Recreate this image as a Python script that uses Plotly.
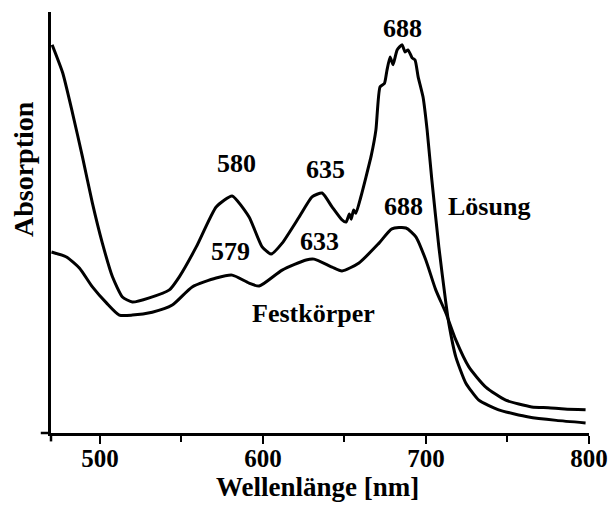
import plotly.graph_objects as go

# Lösung (solution) spectrum
loesung_nm = [470.7, 477.2, 483.2, 489.3, 495.4, 501.5, 507.7, 513.8, 519.9, 530.3,
              542.6, 548.7, 559.1, 571.3, 581.1, 591.5, 599.5, 605.0, 611.8, 622.2,
              630.1, 636.3, 642.4, 648.5, 651.0, 653.0, 654.2, 655.6, 657.0, 660.0,
              663.2, 666.5, 669.3, 671.8, 674.5, 676.0, 678.0, 679.8, 682.3, 685.3,
              687.2, 689.0, 691.5, 693.3, 695.2, 698.2, 700.7, 703.6, 707.9, 712.2,
              714.0, 718.3, 724.4, 732.4, 744.6, 763.0, 780.0, 797.9]
loesung_abs = [0.922, 0.855, 0.760, 0.656, 0.546, 0.451, 0.371, 0.323, 0.311, 0.321,
               0.340, 0.371, 0.442, 0.537, 0.563, 0.513, 0.442, 0.425, 0.451, 0.513,
               0.561, 0.570, 0.537, 0.506, 0.501, 0.520, 0.508, 0.530, 0.522, 0.560,
               0.608, 0.660, 0.720, 0.822, 0.830, 0.860, 0.893, 0.875, 0.910, 0.922,
               0.905, 0.910, 0.891, 0.886, 0.846, 0.798, 0.720, 0.601, 0.442, 0.309,
               0.261, 0.181, 0.119, 0.078, 0.055, 0.038, 0.030, 0.024]

# Festkörper (solid state) spectrum
fest_nm = [470.3, 479.5, 487.4, 495.4, 504.0, 511.9, 519.9, 532.1, 544.4, 556.6,
           571.3, 581.1, 591.5, 597.7, 611.8, 626.5, 631.4, 642.4, 648.5, 658.9,
           671.2, 679.1, 687.7, 693.8, 699.9, 706.0, 712.2, 718.3, 726.3, 736.7,
           748.9, 764.9, 775.0, 785.0, 797.9]
fest_abs = [0.430, 0.418, 0.392, 0.347, 0.309, 0.280, 0.280, 0.287, 0.304, 0.347,
            0.368, 0.375, 0.356, 0.349, 0.387, 0.411, 0.413, 0.394, 0.385, 0.404,
            0.451, 0.485, 0.487, 0.466, 0.411, 0.340, 0.285, 0.221, 0.157, 0.109,
            0.078, 0.062, 0.060, 0.057, 0.055]

x_ticks = [500, 600, 700, 800]
x_minor = [550, 650, 750]

# peak labels: text, wavelength, absorption
peak_text = ["688", "580", "635", "579", "633", "688"]
peak_nm = [685.3, 583.5, 638.1, 579.8, 634.4, 686.0]
peak_abs = [0.962, 0.641, 0.625, 0.430, 0.456, 0.539]

series_text = ["Lösung", "Festkörper"]
series_nm = [738.7, 631.3]
series_abs = [0.537, 0.285]

FONT = "Liberation Serif"

fig = go.Figure()
fig.add_trace(go.Scatter(x=loesung_nm, y=loesung_abs, mode="lines",
                         line=dict(color="black", width=3, shape="spline", smoothing=0.5),
                         name="Lösung", showlegend=False))
fig.add_trace(go.Scatter(x=fest_nm, y=fest_abs, mode="lines",
                         line=dict(color="black", width=3, shape="spline", smoothing=0.6),
                         name="Festkörper", showlegend=False))

for t, xv, yv in zip(peak_text + series_text, peak_nm + series_nm, peak_abs + series_abs):
    fig.add_annotation(x=xv, y=yv, xref="x", yref="y", text=t, showarrow=False,
                       font=dict(family=FONT, size=26, color="black", weight="bold"),
                       xanchor="center", yanchor="middle")

fig.add_annotation(x=-0.052, y=0.627, xref="paper", yref="paper", text="Absorption",
                   textangle=-90, showarrow=False,
                   font=dict(family=FONT, size=28, color="black", weight="bold"),
                   xanchor="center", yanchor="middle")
fig.add_annotation(x=0.496, y=-0.128, xref="paper", yref="paper", text="Wellenlänge [nm]",
                   showarrow=False,
                   font=dict(family=FONT, size=27, color="black", weight="bold"),
                   xanchor="center", yanchor="middle")

# axis extensions (x axis line continues left of y axis, y axis crosses below)
fig.add_shape(type="line", xref="paper", yref="paper", x0=-0.019, x1=0, y0=0, y1=0,
              line=dict(color="black", width=2.5))
fig.add_shape(type="line", xref="paper", yref="paper", x0=0, x1=0, y0=-0.02, y1=0,
              line=dict(color="black", width=2.5))

fig.update_layout(
    width=611, height=507,
    margin=dict(l=51, r=22, t=12, b=74, autoexpand=False),
    paper_bgcolor="white", plot_bgcolor="white",
    xaxis=dict(range=[470, 800], tickmode="array", tickvals=x_ticks,
               ticktext=[str(v) for v in x_ticks], automargin=False,
               showline=True, linecolor="black", linewidth=2.5,
               ticks="outside", ticklen=8, tickwidth=2, tickcolor="black",
               ticklabelstandoff=-7,
               minor=dict(tickmode="array", tickvals=x_minor, ticks="outside",
                          ticklen=6, tickwidth=2, tickcolor="black"),
               showgrid=False, zeroline=False,
               tickfont=dict(family=FONT, size=25, color="black", weight="bold")),
    yaxis=dict(range=[0, 1], showline=True, linecolor="black", linewidth=2.5,
               automargin=False,
               showticklabels=False, ticks="", showgrid=False, zeroline=False),
)

fig.write_html("out.html", config={"displayModeBar": False},
               post_script="document.body.style.margin='0';document.body.style.overflow='hidden';")
